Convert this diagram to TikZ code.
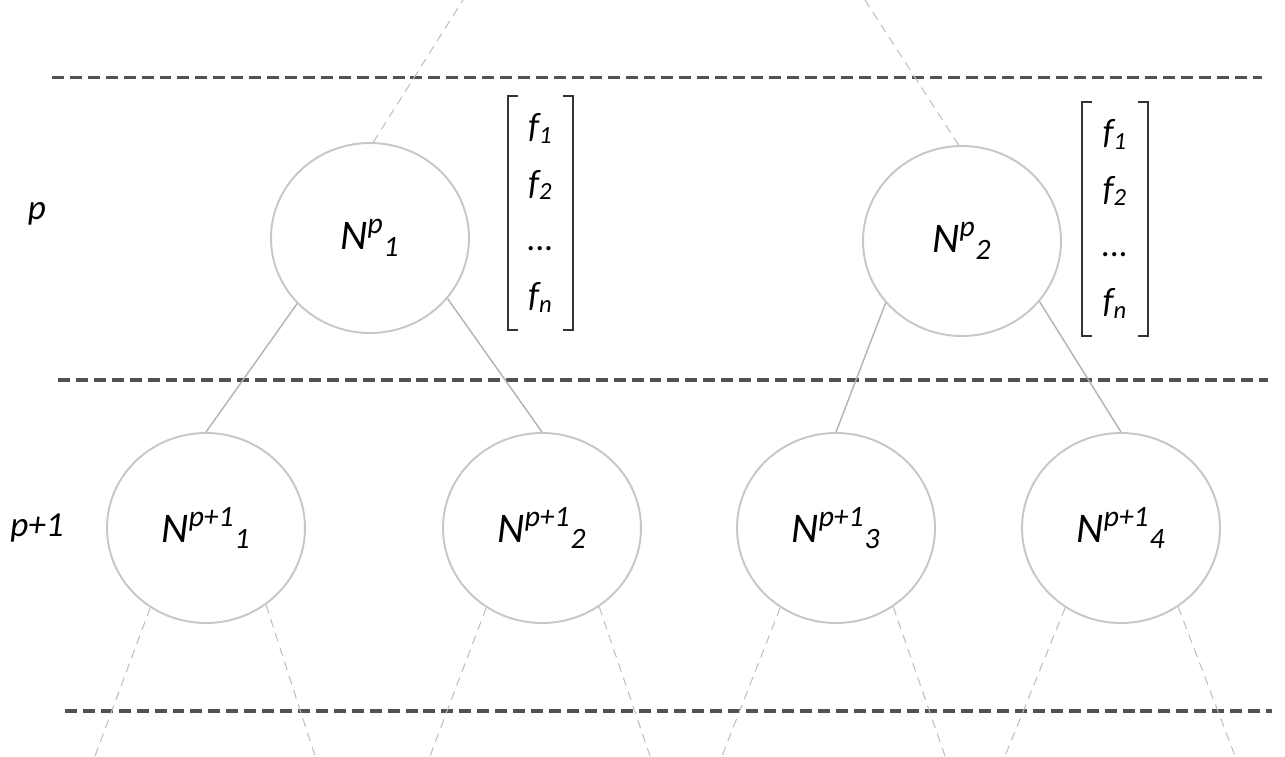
\documentclass[tikz,border=0pt]{standalone}
\usepackage{fontspec}
\setmainfont{Carlito}
\usepackage{tikz}
\usetikzlibrary{shapes.geometric}

\newcommand{\etich}[2]{N\textsuperscript{#1}\textsubscript{#2}}
\newcommand{\fsub}[1]{f\textsubscript{#1}}

\begin{document}
\begin{tikzpicture}[
    nodo/.style={ellipse, draw=black!22, line width=1.1pt, minimum width=3.96cm,
      minimum height=3.8cm, inner sep=0pt, font=\fontsize{24}{28}\selectfont\itshape},
    ramo/.style={draw=black!30, line width=0.8pt},
    ramofuori/.style={draw=black!25, line width=0.6pt, dash pattern=on 5pt off 3.5pt},
    livello/.style={draw=black!68, line width=1.8pt, dash pattern=on 6.8pt off 3.4pt},
    vettore/.style={minimum width=1.3cm, minimum height=4.68cm, inner sep=0pt,
      align=center, font=\fontsize{20}{32}\selectfont\itshape},
    parentesi/.style={draw=black!80, line width=1.1pt},
    etichetta/.style={font=\fontsize{20}{24}\selectfont\itshape}
  ]

  \useasboundingbox (0,0) rectangle (25.7,-15.12);

  % 1. Linee di separazione dei livelli
  \draw[livello] (1.04, -1.55) -- (25.24, -1.55);
  \draw[livello] (1.16, -7.60) -- (25.36, -7.60);
  \draw[livello] (1.30, -14.22) -- (25.44, -14.22);

  % 2. Etichette dei livelli
  \node[etichetta] (lp) at (0.74, -4.28) {p};
  \node[etichetta] (lq) at (0.74, -10.56) {p+1};

  % 3. Nodi del livello p
  \node[nodo] (N1) at (7.40, -4.76) {\etich{p}{1}};
  \node[nodo] (N2) at (19.24, -4.82) {\etich{p}{2}};

  % 4. Nodi del livello p+1
  \node[nodo] (M1) at (4.12, -10.56) {\etich{p+1}{1}};
  \node[nodo] (M2) at (10.84, -10.56) {\etich{p+1}{2}};
  \node[nodo] (M3) at (16.72, -10.56) {\etich{p+1}{3}};
  \node[nodo] (M4) at (22.42, -10.56) {\etich{p+1}{4}};

  % 5. Vettori delle caratteristiche
  \node[vettore] (v1) at (10.81, -4.26) {\fsub{1}\\ \fsub{2}\\ ...\\ \fsub{n}};
  \node[vettore] (v2) at (22.30, -4.38) {\fsub{1}\\ \fsub{2}\\ ...\\ \fsub{n}};
  \foreach \v in {v1, v2} {
    \draw[parentesi] ([xshift=0.2cm]\v.north west) -- (\v.north west)
      -- (\v.south west) -- ++(0.2, 0);
    \draw[parentesi] ([xshift=-0.2cm]\v.north east) -- (\v.north east)
      -- (\v.south east) -- ++(-0.2, 0);
  }

  % 6. Rami tra i livelli
  \draw[ramo] (N1.222) -- (M1.north);
  \draw[ramo] (N1.322) -- (M2.north);
  \draw[ramo] (N2.219) -- (M3.north);
  \draw[ramo] (N2.322) -- (M4.north);

  % 7. Rami verso i livelli non mostrati
  \coordinate (s1) at (9.26, 0);
  \coordinate (s2) at (17.30, 0);
  \draw[ramofuori] (N1.88) -- (s1);
  \draw[ramofuori] (N2.92) -- (s2);

  \coordinate (g1) at (1.90, -15.12);
  \coordinate (g2) at (6.30, -15.12);
  \coordinate (g3) at (8.60, -15.12);
  \coordinate (g4) at (13.00, -15.12);
  \coordinate (g5) at (14.44, -15.12);
  \coordinate (g6) at (18.90, -15.12);
  \coordinate (g7) at (20.10, -15.12);
  \coordinate (g8) at (24.70, -15.12);
  \draw[ramofuori] (M1.235) -- (g1);
  \draw[ramofuori] (M1.308) -- (g2);
  \draw[ramofuori] (M2.235) -- (g3);
  \draw[ramofuori] (M2.306) -- (g4);
  \draw[ramofuori] (M3.235) -- (g5);
  \draw[ramofuori] (M3.306) -- (g6);
  \draw[ramofuori] (M4.235) -- (g7);
  \draw[ramofuori] (M4.306) -- (g8);

\end{tikzpicture}
\end{document}
